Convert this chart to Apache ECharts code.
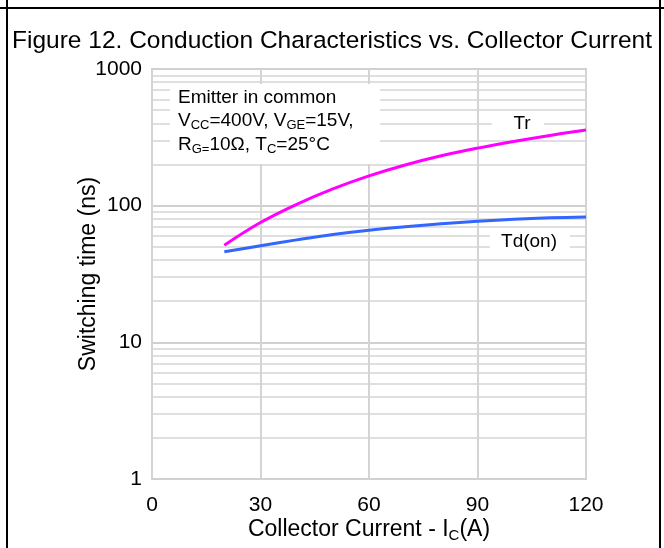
<!DOCTYPE html>
<html>
<head>
<meta charset="utf-8">
<script src="https://cdn.jsdelivr.net/npm/echarts@6/dist/echarts.min.js"></script>
<style>
html,body{margin:0;padding:0;background:#fff;overflow:hidden;}
#chart{width:664px;height:548px;}
</style>
</head>
<body>
<div id="chart"></div>
<script>
// Data
var currentA = [20, 30, 40, 50, 60, 70, 80, 90, 100, 110, 120];
var trNs     = [51.4, 75.3, 102.3, 132.7, 165.2, 198.6, 231.7, 263.6, 295.1, 326.6, 358];
var tdOnNs   = [46.0, 50.9, 56.2, 61.5, 66.1, 70.0, 73.6, 76.9, 79.6, 81.5, 82.6];
var xTicks = [0, 30, 60, 90, 120];
var yTicks = [1, 10, 100, 1000];
var minorGrid = [2,3,4,5,6,7,8,9,20,30,40,50,60,70,80,90,200,300,400,500,600,700,800,900];

var FONT = 'Arial, "Liberation Sans", sans-serif';
var chart = echarts.init(document.getElementById('chart'));

function pairs(xs, ys){ return xs.map(function(x,i){ return [x, ys[i]]; }); }

var option = {
  animation: false,
  backgroundColor: '#fff',
  textStyle: {fontFamily: FONT},
  title: {
    text: 'Figure 12. Conduction Characteristics vs. Collector Current',
    left: 'center', top: 24,
    textStyle: {fontFamily: FONT, fontSize: 24.5, fontWeight: 'normal', color: '#000'}
  },
  grid: {left: 152, right: 78, top: 69, bottom: 67, show: true, borderColor: '#c8c8c8', borderWidth: 2, backgroundColor: 'transparent'},
  xAxis: {
    type: 'value', min: 0, max: 120, interval: 30,
    axisLine: {show: false}, axisTick: {show: false},
    axisLabel: {fontFamily: FONT, fontSize: 21, color: '#000', margin: 16},
    splitLine: {show: true, lineStyle: {color: '#d4d4d4', width: 2}},
    name: '{n|Collector Current - I}{s|C}{n|(A)}',
    nameLocation: 'middle', nameGap: 37, nameMoveOverlap: false,
    nameTextStyle: {rich: {n: {fontFamily: FONT, fontSize: 23, color: '#000'}, s: {fontFamily: FONT, fontSize: 15, color: '#000', padding: [12,0,0,0]}}}
  },
  yAxis: {
    type: 'log', logBase: 10, min: 1, max: 1000,
    axisLine: {show: false}, axisTick: {show: false},
    axisLabel: {fontFamily: FONT, fontSize: 21, color: '#000', margin: 10, formatter: function(v){ return String(v); }},
    splitLine: {show: true, lineStyle: {color: '#d0d0d0', width: 2}},
    name: 'Switching time (ns)', nameLocation: 'middle', nameGap: 52, nameRotate: 90, nameMoveOverlap: false,
    nameTextStyle: {fontFamily: FONT, fontSize: 23, color: '#000'}
  },
  graphic: [
    {type: 'line', shape: {x1: 0, y1: 8, x2: 664, y2: 8}, style: {stroke: '#000', lineWidth: 2}},
    {type: 'line', shape: {x1: 7, y1: 0, x2: 7, y2: 548}, style: {stroke: '#000', lineWidth: 2}},
    {type: 'line', shape: {x1: 660, y1: 0, x2: 660, y2: 548}, style: {stroke: '#000', lineWidth: 2}},
    {type: 'rect', z: 1, shape: {x: 170, y: 84, width: 210, height: 80}, style: {fill: '#fff'}},
    {type: 'text', z: 2, left: 178, top: 88, style: {
      rich: {
        n: {fontFamily: FONT, fontSize: 19, fill: '#000', lineHeight: 23.5},
        s: {fontFamily: FONT, fontSize: 13, fill: '#000', lineHeight: 23.5, padding: [9,0,0,0]}
      },
      text: '{n|Emitter in common}\n{n|V}{s|CC}{n|=400V, V}{s|GE}{n|=15V,}\n{n|R}{s|G=}{n|10Ω, T}{s|C}{n|=25°C}'
    }},
    {type: 'rect', z: 1, shape: {x: 492, y: 113, width: 52, height: 22}, style: {fill: '#fff'}},
    {type: 'text', z: 2, x: 522, y: 124, style: {text: 'Tr', fontFamily: FONT, fontSize: 19, fill: '#000', textAlign: 'center', textVerticalAlign: 'middle'}},
    {type: 'rect', z: 1, shape: {x: 490, y: 231, width: 80, height: 22}, style: {fill: '#fff'}},
    {type: 'text', z: 2, x: 529, y: 242, style: {text: 'Td(on)', fontFamily: FONT, fontSize: 19, fill: '#000', textAlign: 'center', textVerticalAlign: 'middle'}}
  ],
  series: [
    {
      type: 'line', data: [], silent: true,
      markLine: {
        silent: true, symbol: 'none', z: 0, label: {show: false},
        lineStyle: {color: '#d4d4d4', width: 1.5, type: 'solid'},
        emphasis: {disabled: true},
        data: minorGrid.map(function(v){ return {yAxis: v}; })
      }
    },
    {name: 'Tr', type: 'line', z: 5, smooth: 0.4, symbol: 'none', data: pairs(currentA, trNs), lineStyle: {color: '#ff00ff', width: 3}},
    {name: 'Td(on)', type: 'line', z: 5, smooth: 0.4, symbol: 'none', data: pairs(currentA, tdOnNs), lineStyle: {color: '#3366ff', width: 3}}
  ]
};
chart.setOption(option);
</script>
</body>
</html>
